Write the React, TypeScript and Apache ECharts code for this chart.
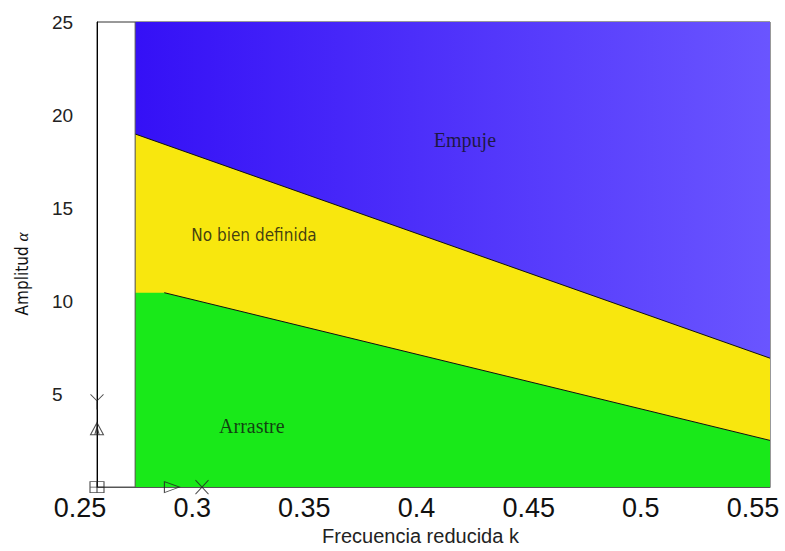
import React, { useEffect, useRef } from "react";
import * as echarts from "echarts";

// Axis ticks
const xTicksMin = 0.25;
const xTicksMax = 0.55;
const xTickStep = 0.05;
const yTicksMin = 0;
const yTicksMax = 25;
const yTickStep = 5;

// Region boundaries (k, alpha)
const regionLeftK = 0.267;
const topK = [0.267, 0.55];
const topAlpha = [25, 25];
const upperK = [0.267, 0.55];
const upperAlpha = [18.98, 6.93];
const greenK = [0.267, 0.28, 0.55];
const greenAlpha = [10.45, 10.45, 2.51];
const lowerK = [0.28, 0.55];
const lowerAlpha = [10.45, 2.51];

// Markers
const markerK = [0.25, 0.25, 0.25, 0.2834, 0.2968];
const markerAlpha = [0, 3.14, 4.58, 0, 0];
const markerSymbols = [
  "path://M0,0L12,0L12,10L0,10Z M6,0L6,10 M0,5L12,5",
  "path://M0,12L6,0L12,12Z M6,0L6,12 M4,12L6,4L8,12",
  "path://M0,0L6,6L12,0 M6,6L6,14",
  "path://M0,0L15,5.5L0,11Z",
  "path://M0,0L12,12 M12,0L0,12",
];
const markerSizes = [
  [14, 11],
  [13, 12],
  [13, 15],
  [15, 11],
  [13, 14],
];

// Region labels
const regionNames = ["Empuje", "No bien definida", "Arrastre"];
const regionLabelK = [0.414, 0.32, 0.319];
const regionLabelAlpha = [18.66, 13.54, 3.3];

const zip = (a: number[], b: number[]) => a.map((v, i) => [v, b[i]]);

const SERIF = '"Liberation Serif", "DejaVu Serif", serif';
const SANS = '"Liberation Sans", Arial, sans-serif';
const NARROW = '"Liberation Sans Narrow", "Arial Narrow", "DejaVu Sans Condensed", sans-serif';

export default function App() {
  const ref = useRef<HTMLDivElement>(null);
  useEffect(() => {
    document.body.style.margin = "0";
    if (!ref.current) return;
    const chart = echarts.init(ref.current, undefined, { renderer: "svg" });
    const labelFonts = [
      { fontFamily: SERIF, fontSize: 20 },
      { fontFamily: NARROW, fontSize: 17 },
      { fontFamily: SERIF, fontSize: 20 },
    ];
    chart.setOption({
      animation: false,
      backgroundColor: "#ffffff",
      grid: {
        left: 97,
        right: 15,
        top: 22,
        bottom: 60,
        show: true,
        borderColor: "#333",
        borderWidth: 1,
        backgroundColor: "transparent",
      },
      xAxis: {
        type: "value",
        min: xTicksMin,
        max: xTicksMax,
        interval: xTickStep,
        axisLine: { show: true, lineStyle: { color: "#555", width: 1 } },
        axisTick: { show: false },
        splitLine: { show: false },
        axisLabel: {
          margin: 7,
          fontSize: 27,
          fontFamily: SANS,
          color: "#111",
          padding: [0, 34, 0, 0],
          formatter: (v: number) => String(+v.toFixed(2)),
        },
        name: "Frecuencia reducida k",
        nameLocation: "middle",
        nameGap: 38,
        nameTextStyle: {
          fontSize: 20,
          fontFamily: SANS,
          color: "#222",
          padding: [0, 26, 0, 0],
        },
      },
      yAxis: {
        type: "value",
        min: yTicksMin,
        max: yTicksMax,
        interval: yTickStep,
        axisLine: { show: true, lineStyle: { color: "#000", width: 1 } },
        axisTick: { show: false },
        splitLine: { show: false },
        axisLabel: {
          margin: 45,
          align: "left",
          fontSize: 19,
          fontFamily: SANS,
          color: "#222",
          formatter: (v: number) => (v === 0 ? "" : String(v)),
        },
      },
      graphic: [
        {
          type: "text",
          x: 22,
          y: 274,
          rotation: Math.PI / 2,
          style: {
            text: "Amplitud {a|α}",
            fontFamily: NARROW,
            fontSize: 17,
            fill: "#111",
            align: "center",
            verticalAlign: "middle",
            rich: {
              a: {
                fontFamily: SERIF,
                fontStyle: "italic",
                fontSize: 17,
                fill: "#111",
                color: "#111",
              },
            },
          },
        },
      ],
      series: [
        {
          type: "line",
          data: zip(topK, topAlpha),
          symbol: "none",
          lineStyle: { width: 0 },
          areaStyle: {
            opacity: 1,
            color: new echarts.graphic.LinearGradient(0, 0, 1, 0, [
              { offset: 0, color: "#3510f6" },
              { offset: 1, color: "#6a55ff" },
            ]),
          },
          z: 1,
        },
        {
          type: "line",
          data: zip(upperK, upperAlpha),
          symbol: "none",
          lineStyle: { width: 1, color: "#111" },
          areaStyle: { opacity: 1, color: "#f8e70e" },
          z: 2,
        },
        {
          type: "line",
          data: zip(greenK, greenAlpha),
          symbol: "none",
          lineStyle: { width: 0 },
          areaStyle: { opacity: 1, color: "#19e919" },
          z: 3,
        },
        {
          type: "line",
          data: zip(lowerK, lowerAlpha),
          symbol: "none",
          lineStyle: { width: 1, color: "#111" },
          z: 4,
        },
        {
          type: "line",
          data: [
            [regionLeftK, yTicksMin],
            [regionLeftK, yTicksMax],
          ],
          symbol: "none",
          lineStyle: { width: 1, color: "#555" },
          z: 4,
        },
        {
          type: "scatter",
          clip: false,
          z: 6,
          data: markerK.map((k, i) => ({
            value: [k, markerAlpha[i]],
            symbol: markerSymbols[i],
            symbolSize: markerSizes[i],
          })),
          itemStyle: {
            color: "rgba(0,0,0,0)",
            borderColor: "#222",
            borderWidth: 1,
          },
        },
        {
          type: "scatter",
          z: 7,
          symbolSize: 1,
          itemStyle: { color: "rgba(0,0,0,0)" },
          data: regionNames.map((n, i) => ({
            name: n,
            value: [regionLabelK[i], regionLabelAlpha[i]],
            label: {
              show: true,
              position: "inside",
              formatter: n,
              color: "#111",
              ...labelFonts[i],
            },
          })),
        },
      ],
    });
    return () => chart.dispose();
  }, []);
  return <div ref={ref} style={{ width: 785, height: 551 }} />;
}
